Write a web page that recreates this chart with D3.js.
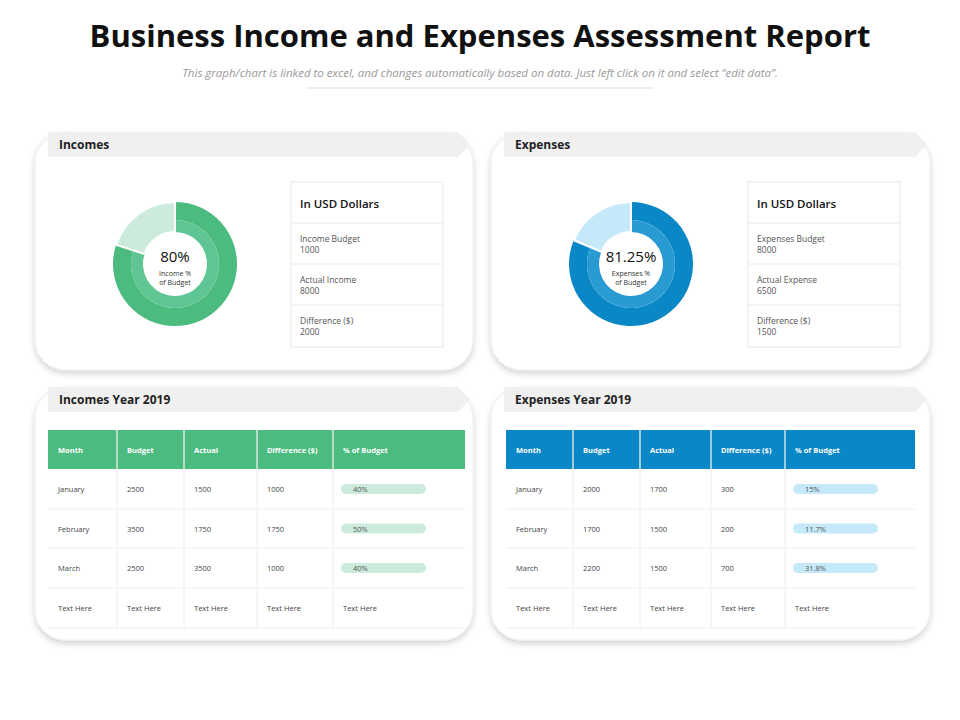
<!DOCTYPE html><html><head><meta charset="utf-8">
<script src="https://cdn.jsdelivr.net/npm/d3@7"></script>
<style>body{margin:0;background:#fff}text{font-family:"Open Sans",sans-serif}</style></head><body>
<svg id="c" width="960" height="720"></svg>
<script>
const donutPercents=[80,81.25];
const donutLabels=[["Income %","of Budget"],["Expenses %","of Budget"]];
const cardTitles=["Incomes","Expenses","Incomes Year 2019","Expenses Year 2019"];
const infoIncome=[["Income Budget","1000"],["Actual Income","8000"],["Difference ($)","2000"]];
const infoExpense=[["Expenses Budget","8000"],["Actual Expense","6500"],["Difference ($)","1500"]];
const tableHeaders=["Month","Budget","Actual","Difference ($)","% of Budget"];
const months=["January","February","March"];
const incBudget=[2500,3500,2500],incActual=[1500,1750,3500],incDiff=[1000,1750,1000],incPct=["40%","50%","40%"];
const expBudget=[2000,1700,2200],expActual=[1700,1500,1500],expDiff=[300,200,700],expPct=["15%","11.7%","31.8%"];

const svg=d3.select("#c");
const defs=svg.append("defs");
const f=defs.append("filter").attr("id","sh").attr("x","-10%").attr("y","-10%").attr("width","120%").attr("height","130%");
f.append("feDropShadow").attr("dx",0).attr("dy",3).attr("stdDeviation",3).attr("flood-color","#000").attr("flood-opacity",0.18);

svg.append("text").attr("x",480).attr("y",47).attr("text-anchor","middle").attr("font-size",31).attr("font-weight",700).attr("fill","#111").text("Business Income and Expenses Assessment Report");
svg.append("text").attr("x",480).attr("y",77).attr("text-anchor","middle").attr("font-size",11.5).attr("font-style","italic").attr("fill","#999").text("This graph/chart is linked to excel, and changes automatically  based on data.  Just left click on it and select “edit data”.");
svg.append("line").attr("x1",307).attr("x2",653).attr("y1",88).attr("y2",88).attr("stroke","#ddd");

const cards=[{x:35,y:133,w:438,h:237},{x:491,y:133,w:439,h:237},{x:35,y:388,w:438,h:252},{x:491,y:388,w:439,h:252}];
cards.forEach((c,i)=>{
  svg.append("rect").attr("x",c.x).attr("y",c.y).attr("width",c.w).attr("height",c.h).attr("rx",30).attr("fill","#fff").attr("stroke","#eee").attr("filter","url(#sh)");
  const x0=c.x+13,x1=c.x+c.w-15,y0=c.y-1,y1=c.y+24;
  svg.append("path").attr("d",`M${x0},${y0}H${x1}L${x1+12},${(y0+y1)/2}L${x1},${y1}H${x0}Z`).attr("fill","#f0f0f0");
  svg.append("text").attr("x",c.x+(i%2?24:24)).attr("y",c.y+16).attr("font-size",12).attr("font-weight",700).attr("fill","#222").text(cardTitles[i]);
});

const cols=[["#4cbb7f","#5fc592","#cdebdc"],["#0a87c6","#2a9ad3","#c5e9f8"]];
[[175,264],[631,264]].forEach(([cx,cy],i)=>{
  const g=svg.append("g").attr("transform",`translate(${cx},${cy})`);
  const p=donutPercents[i]/100, a=p*2*Math.PI;
  g.append("path").attr("d",d3.arc()({innerRadius:32,outerRadius:62,startAngle:a,endAngle:2*Math.PI})).attr("fill",cols[i][2]).attr("stroke","#fff").attr("stroke-width",2);
  g.append("path").attr("d",d3.arc()({innerRadius:44,outerRadius:62,startAngle:0,endAngle:a})).attr("fill",cols[i][0]);
  g.append("path").attr("d",d3.arc()({innerRadius:32,outerRadius:44,startAngle:0,endAngle:a})).attr("fill",cols[i][1]);
  g.append("path").attr("d",d3.arc()({innerRadius:32,outerRadius:62,startAngle:a,endAngle:a})).attr("stroke","#fff").attr("stroke-width",2);
  g.append("line").attr("x1",0).attr("x2",0).attr("y1",-31).attr("y2",-63).attr("stroke","#fff").attr("stroke-width",2);
  g.append("text").attr("y",-2).attr("text-anchor","middle").attr("font-size",i?15:15).attr("fill","#111").text(donutPercents[i]+"%");
  donutLabels[i].forEach((t,k)=>g.append("text").attr("y",12+k*9).attr("text-anchor","middle").attr("font-size",7).attr("fill","#333").text(t));
});

[[291,infoIncome],[748,infoExpense]].forEach(([x,info])=>{
  const w=152,ys=[182,223,264,305,347];
  svg.append("rect").attr("x",x).attr("y",182).attr("width",w).attr("height",165).attr("fill","#fff").attr("stroke","#e8e8e8");
  ys.slice(1,4).forEach(y=>svg.append("line").attr("x1",x).attr("x2",x+w).attr("y1",y).attr("y2",y).attr("stroke","#e8e8e8"));
  svg.append("text").attr("x",x+9).attr("y",208).attr("font-size",11.5).attr("font-weight",600).attr("fill","#111").text("In USD Dollars");
  info.forEach((r,k)=>{
    svg.append("text").attr("x",x+9).attr("y",ys[k+1]+19).attr("font-size",8.5).attr("fill","#555").text(r[0]);
    svg.append("text").attr("x",x+9).attr("y",ys[k+1]+30).attr("font-size",8.5).attr("fill","#555").text(r[1]);
  });
});

function table(colX,color,bar,budget,actual,diff,pct){
  const rowsY=[430,469,509,548,588,628];
  const L=colX[0],R=colX[colX.length-1];
  svg.append("rect").attr("x",L).attr("y",430).attr("width",R-L).attr("height",39).attr("fill",color);
  colX.slice(1,-1).forEach(x=>{svg.append("line").attr("x1",x).attr("x2",x).attr("y1",430).attr("y2",628).attr("stroke","#eee");
    svg.append("line").attr("x1",x).attr("x2",x).attr("y1",430).attr("y2",469).attr("stroke","#fff").attr("stroke-opacity",0.5);});
  rowsY.slice(2).forEach(y=>svg.append("line").attr("x1",L).attr("x2",R).attr("y1",y).attr("y2",y).attr("stroke","#eee"));
  tableHeaders.forEach((h,j)=>svg.append("text").attr("x",colX[j]+10).attr("y",453).attr("font-size",7.5).attr("font-weight",700).attr("fill","#fff").text(h));
  const rows=months.map((m,k)=>[m,budget[k],actual[k],diff[k]]);
  rows.forEach((r,k)=>{
    const y=(rowsY[k+1]+rowsY[k+2])/2+3;
    r.forEach((v,j)=>svg.append("text").attr("x",colX[j]+10).attr("y",y).attr("font-size",7.5).attr("fill","#444").text(v));
    svg.append("rect").attr("x",colX[4]+8).attr("y",y-8).attr("width",85).attr("height",10).attr("rx",5).attr("fill",bar);
    svg.append("text").attr("x",colX[4]+20).attr("y",y).attr("font-size",7.5).attr("fill","#555").text(pct[k]);
  });
  tableHeaders.forEach((h,j)=>svg.append("text").attr("x",colX[j]+10).attr("y",611).attr("font-size",7.5).attr("fill","#444").text("Text Here"));
}
table([48,117,184,257,333,465],"#4cbb7f","#cdebdc",incBudget,incActual,incDiff,incPct);
table([506,573,640,711,785,915],"#0a87c6","#c5e9f8",expBudget,expActual,expDiff,expPct);
</script></body></html>
